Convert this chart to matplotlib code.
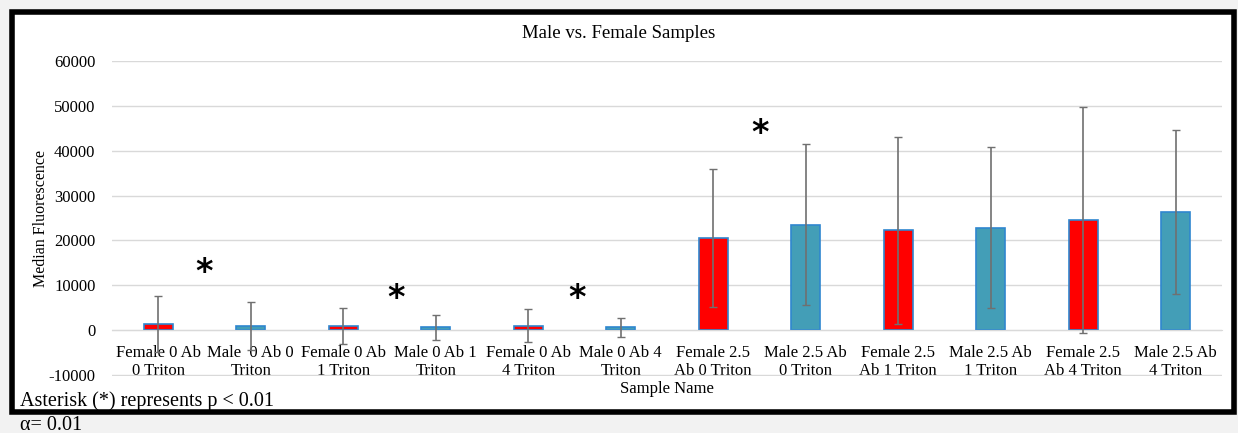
import numpy as np
import matplotlib.pyplot as plt
from matplotlib.patches import Rectangle

plt.rcParams['font.family'] = ['Liberation Serif', 'DejaVu Serif']
plt.rcParams['axes.unicode_minus'] = False

# Sample groups and medians
samples = ['Female 0 Ab\n0 Triton', 'Male  0 Ab 0\nTriton', 'Female 0 Ab\n1 Triton',
           'Male 0 Ab 1\nTriton', 'Female 0 Ab\n4 Triton', 'Male 0 Ab 4\nTriton',
           'Female 2.5\nAb 0 Triton', 'Male 2.5 Ab\n0 Triton', 'Female 2.5\nAb 1 Triton',
           'Male 2.5 Ab\n1 Triton', 'Female 2.5\nAb 4 Triton', 'Male 2.5 Ab\n4 Triton']
median_fl = [1340, 970, 970, 600, 970, 600, 20550, 23530, 22260, 22860, 24570, 26280]
errors = [6300, 5280, 3950, 2680, 3650, 2150, 15300, 17940, 20900, 18000, 25240, 18250]
is_female = [True, False] * 6

# significance markers (x position in category units, height)
star_x = [0.5, 2.57, 4.53, 6.51]
star_y = [12800, 7000, 7000, 43800]

fig = plt.figure(figsize=(12.38, 4.33), dpi=100)
fig.patch.set_facecolor('#f2f2f2')

# white panel with heavy black border
fig.patches.append(Rectangle((12 / 1238, 21 / 433), 1222 / 1238, 400 / 433,
                             transform=fig.transFigure, facecolor='white',
                             edgecolor='black', linewidth=4, zorder=-5))

ax = fig.add_axes([0.0905, 0.1323, 0.8965, 0.7268])
ax.set_facecolor('none')

x = np.arange(len(samples))
colors = ['#ff0000' if f else '#439eb7' for f in is_female]
ax.bar(x, median_fl, width=0.31, color=colors, edgecolor='#2f86cf', linewidth=1.2, zorder=2)
ax.errorbar(x, median_fl, yerr=errors, fmt='none', ecolor='#707070', elinewidth=1.2,
            capsize=3, capthick=1, zorder=3)

for sx, sy in zip(star_x, star_y):
    ax.text(sx, sy, '*', fontsize=24, fontweight='bold', ha='center', va='center',
            family='DejaVu Sans')

ax.set_xlim(-0.5, len(samples) - 0.5)
ax.set_ylim(-10150, 60000)
ax.set_yticks(np.arange(-10000, 60001, 10000))
ax.yaxis.grid(True, color='#d9d9d9', linewidth=1)
ax.set_axisbelow(True)
ax.tick_params(axis='y', length=0, pad=12, labelsize=12)

ax.spines['bottom'].set_position(('data', 0))
ax.spines['bottom'].set_color('#d9d9d9')
for s in ['top', 'right', 'left']:
    ax.spines[s].set_visible(False)
ax.set_xticks(x)
ax.set_xticklabels(samples, fontsize=12, linespacing=1.1)
ax.tick_params(axis='x', length=0, pad=11)

ax.set_ylabel('Median Fluorescence', fontsize=11.5)
ax.yaxis.set_label_coords(-0.057, 0.5)
ax.set_xlabel('Sample Name', fontsize=12)
ax.xaxis.set_label_coords(0.5, -0.016)
ax.xaxis.label.set_va('top')

fig.text(0.5, 0.922, 'Male vs. Female Samples', ha='center', va='center', fontsize=13.5)
fig.text(20 / 1238, 1 - 401 / 433, 'Asterisk (*) represents p < 0.01', ha='left',
         va='center', fontsize=14.5)
fig.text(20 / 1238, 1 - 425 / 433, 'α= 0.01', ha='left', va='center', fontsize=14.5)

fig.savefig('out.png', dpi=100, facecolor=fig.get_facecolor())
